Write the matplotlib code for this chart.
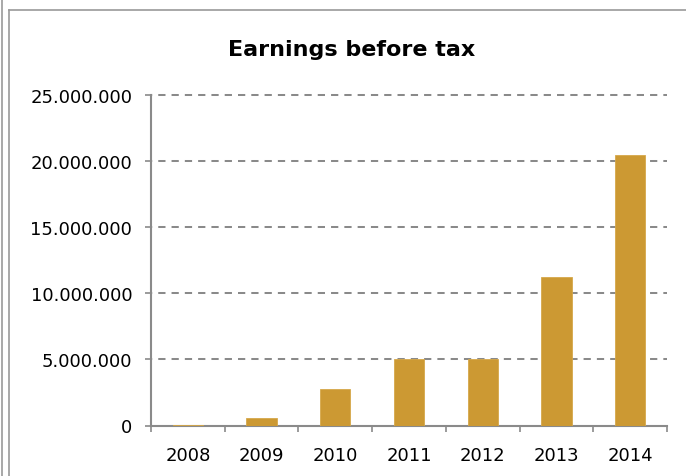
import matplotlib
matplotlib.use("Agg")
import matplotlib.pyplot as plt
from matplotlib.lines import Line2D
from matplotlib.ticker import FuncFormatter

years = ["2008", "2009", "2010", "2011", "2012", "2013", "2014"]
earnings = [40000, 550000, 2750000, 5030000, 5060000, 11230000, 20440000]
y_ticks = [0, 5000000, 10000000, 15000000, 20000000, 25000000]
title = "Earnings before tax"

W, H = 686, 477
fig = plt.figure(figsize=(W / 100, H / 100), dpi=100)
plt.rcParams['font.family'] = ['DejaVu Sans']

def fx(px):
    return px / W

def fy(py):
    return 1 - py / H

ax = fig.add_axes([fx(151), fy(426.5), fx(667) - fx(151), fy(96) - fy(426.5)])

bar_color = "#CC9933"
grid_color = "#8a8a8a"
x = list(range(len(years)))
ax.bar(x, earnings, width=0.41, color=bar_color, edgecolor="#D6A84A", linewidth=0.6, zorder=3)

ax.set_xlim(-0.5, len(years) - 0.5)
ax.set_ylim(0, 25000000)
ax.set_yticks(y_ticks)
ax.yaxis.set_major_formatter(FuncFormatter(lambda v, p: f"{int(v):,}".replace(",", ".")))
ax.set_xticks(x)
ax.set_xticklabels(years)
ax.set_xticks([i - 0.5 for i in range(len(years) + 1)], minor=True)

for v in y_ticks[1:]:
    ax.axhline(v, color=grid_color, linewidth=1.45, linestyle=(3.0, (3.6, 3.0)),
               zorder=1, clip_on=False)

for s in ["top", "right"]:
    ax.spines[s].set_visible(False)
for s in ["left", "bottom"]:
    ax.spines[s].set_color(grid_color)
    ax.spines[s].set_linewidth(1.5)

ax.tick_params(axis="y", which="major", direction="out", length=4.5, width=1.2,
               color=grid_color, labelsize=13, pad=9, labelcolor="black")
ax.tick_params(axis="x", which="major", length=0, labelsize=13, pad=15, labelcolor="black")
ax.tick_params(axis="x", which="minor", direction="out", length=4.5, width=1.2, color=grid_color)

fig.text(fx(352), fy(56), title, ha="center", va="baseline", fontsize=16,
         fontweight="bold", color="black")

# chart border lines
border = "#9a9a9a"
fig.add_artist(Line2D([fx(1.5), fx(1.5)], [0, 1], color=border, linewidth=1.2))
fig.add_artist(Line2D([fx(8.5), fx(8.5)], [0, fy(11)], color=border, linewidth=1.2))
fig.add_artist(Line2D([fx(8.5), 1], [fy(11), fy(11)], color=border, linewidth=1.2))

fig.savefig("out.png", dpi=100)
